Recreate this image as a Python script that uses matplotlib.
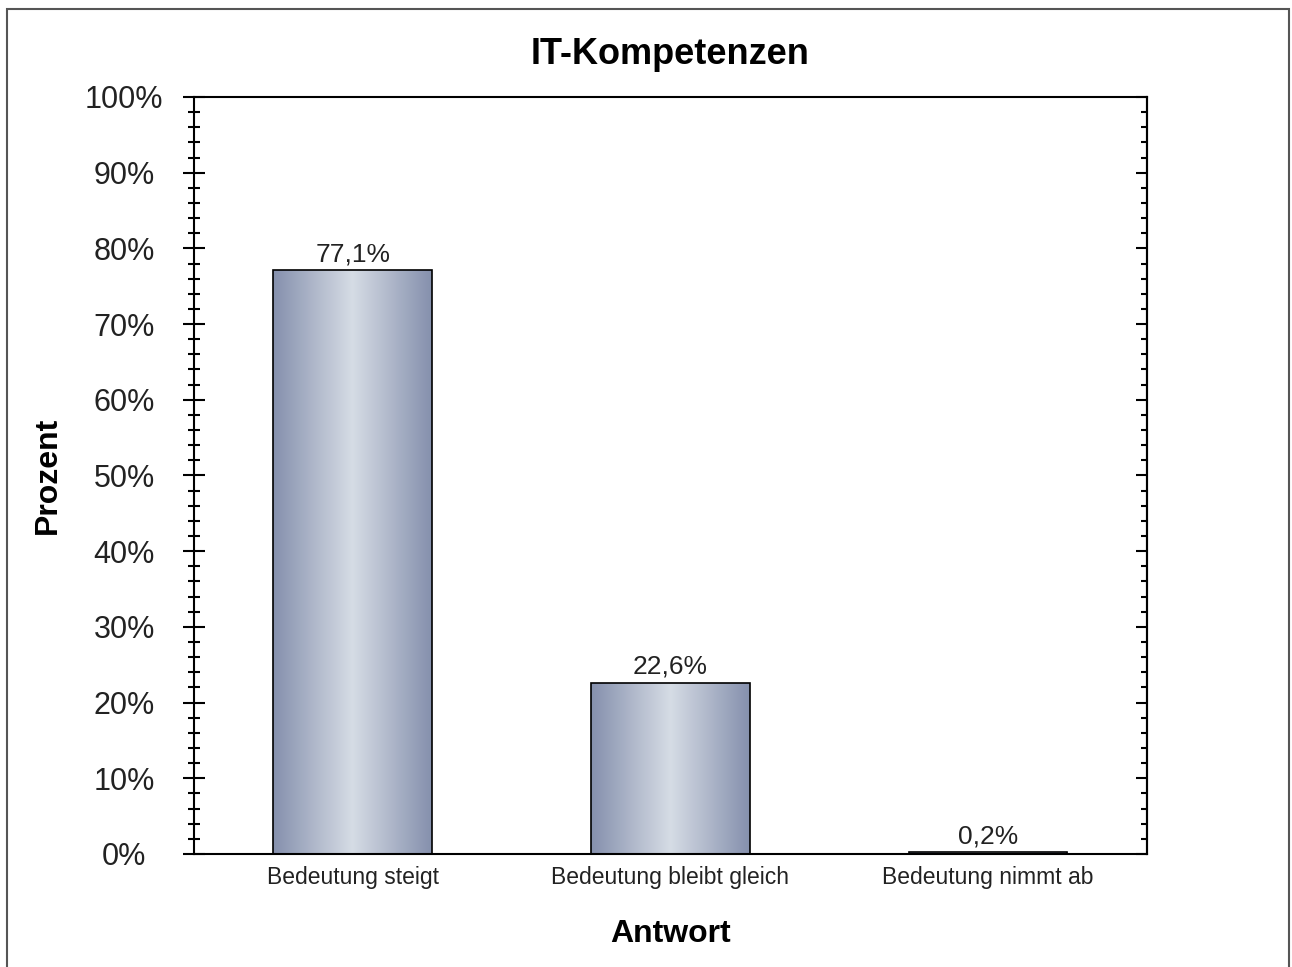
import numpy as np
import matplotlib.pyplot as plt
from matplotlib.colors import LinearSegmentedColormap
from matplotlib.patches import Rectangle
from matplotlib.ticker import MultipleLocator, FuncFormatter, NullFormatter

plt.rcParams['font.family'] = ['Liberation Sans', 'DejaVu Sans']

kategorien = ['Bedeutung steigt', 'Bedeutung bleibt gleich', 'Bedeutung nimmt ab']
werte = [77.1, 22.6, 0.2]
beschriftung = ['77,1%', '22,6%', '0,2%']

fig = plt.figure(figsize=(12.92, 9.67), dpi=100)
ax = fig.add_axes([0.150, 0.1169, 0.7376, 0.7828])

# Rahmen um die ganze Grafik
fig.patches.append(Rectangle((7 / 1292, -0.01), 1282 / 1292, 1 - 9 / 967 + 0.01,
                             transform=fig.transFigure, fill=False,
                             edgecolor='#555555', linewidth=1.5))

x = np.arange(len(kategorien))
breite = 0.5
bars = ax.bar(x, werte, width=breite, color='none', edgecolor='black',
              linewidth=1.2, zorder=3)

# horizontaler Farbverlauf in den Balken
cmap = LinearSegmentedColormap.from_list('verlauf', ['#8590ad', '#d6dce5', '#8590ad'])
grad = np.linspace(0, 1, 256).reshape(1, -1)
for b in bars:
    x0, y0 = b.get_x(), b.get_y()
    w, h = b.get_width(), b.get_height()
    im = ax.imshow(grad, cmap=cmap, aspect='auto', extent=[x0, x0 + w, y0, y0 + h],
                   zorder=2, interpolation='bicubic')
    im.set_clip_path(b)

for xi, v, t in zip(x, werte, beschriftung):
    ax.annotate(t, (xi, v), xytext=(0, 3), textcoords='offset points',
                ha='center', va='bottom', fontsize=19, color='#222222')

ax.set_xlim(-0.5, 2.5)
ax.set_ylim(0, 100)
ax.set_xticks(x)
ax.set_xticklabels(kategorien, fontsize=16.5, color='#222222')
ax.tick_params(axis='x', length=0, pad=9)

ax.yaxis.set_major_locator(MultipleLocator(10))
ax.yaxis.set_minor_locator(MultipleLocator(2))
ax.yaxis.set_major_formatter(FuncFormatter(lambda v, p: f'{v:.0f}%'))
ax.tick_params(axis='y', which='major', direction='inout', length=16, width=1.5,
               labelsize=22, pad=42, labelcolor='#222222')
ax.tick_params(axis='y', which='minor', direction='inout', length=9, width=1.5)
for lab in ax.get_yticklabels():
    lab.set_horizontalalignment('center')

# rechte Achse: Striche nur nach innen
rechts = ax.secondary_yaxis('right')
rechts.yaxis.set_major_locator(MultipleLocator(10))
rechts.yaxis.set_minor_locator(MultipleLocator(2))
rechts.yaxis.set_major_formatter(NullFormatter())
rechts.tick_params(which='major', direction='in', length=8, width=1.5)
rechts.tick_params(which='minor', direction='in', length=4.5, width=1.5)
rechts.spines['right'].set_linewidth(1.5)

for s in ax.spines.values():
    s.set_linewidth(1.5)

ax.set_title('IT-Kompetenzen', fontsize=26, fontweight='bold', pad=24)
ax.set_xlabel('Antwort', fontsize=23, fontweight='bold', labelpad=21)
ax.set_ylabel('Prozent', fontsize=23, fontweight='bold', labelpad=16)

fig.savefig('out.png', dpi=100)
